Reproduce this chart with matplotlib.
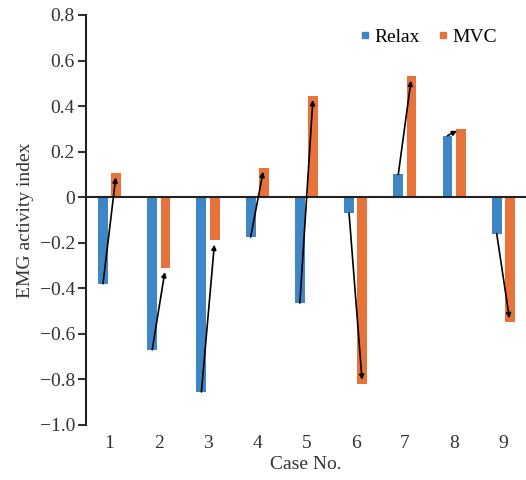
import matplotlib
matplotlib.use("Agg")
import matplotlib.pyplot as plt
from matplotlib.lines import Line2D

# data
cases = [1, 2, 3, 4, 5, 6, 7, 8, 9]
relax = [-0.38, -0.67, -0.855, -0.175, -0.465, -0.07, 0.10, 0.27, -0.16]
mvc = [0.105, -0.31, -0.19, 0.13, 0.445, -0.82, 0.53, 0.30, -0.55]
yticks = [0.8, 0.6, 0.4, 0.2, 0, -0.2, -0.4, -0.6, -0.8, -1.0]
ytick_labels = ["0.8", "0.6", "0.4", "0.2", "0", "\u22120.2", "\u22120.4",
                "\u22120.6", "\u22120.8", "\u22121.0"]

BLUE = "#3f86c6"
ORANGE = "#e8733a"

plt.rcParams['font.family'] = ['Liberation Serif', 'DejaVu Serif']

fig = plt.figure(figsize=(5.26, 4.8), dpi=100)
ax = fig.add_axes([0.1635, 0.1146, 0.8365, 0.8542])

w = 0.2
off = 0.135
xs_b = [c - off for c in cases]
xs_o = [c + off for c in cases]
ax.bar(xs_b, relax, width=w, color=BLUE, zorder=2)
ax.bar(xs_o, mvc, width=w, color=ORANGE, zorder=2)

# arrows from Relax to MVC
for xb, rb, xo, mo in zip(xs_b, relax, xs_o, mvc):
    ax.annotate("", xy=(xo, mo), xytext=(xb, rb),
                arrowprops=dict(arrowstyle="-|>", color="black", lw=1.2,
                                mutation_scale=7, shrinkA=0, shrinkB=3),
                zorder=4)

ax.axhline(0, color="#222222", lw=1.5, zorder=3)

ax.set_xlim(0.52, 9.46)
ax.set_ylim(-1.0, 0.8)
ax.set_yticks(yticks)
ax.set_yticklabels(ytick_labels)
ax.set_xticks(cases)
ax.set_xticklabels([str(c) for c in cases])

for s in ["top", "right", "bottom"]:
    ax.spines[s].set_visible(False)
ax.spines["left"].set_linewidth(1.5)
ax.spines["left"].set_color("#222222")

ax.tick_params(axis="y", direction="out", length=6, width=1.5,
               labelsize=14, pad=2, colors="#333333")
ax.tick_params(axis="x", length=0, labelsize=14, pad=7, colors="#333333")

ax.set_ylabel("EMG activity index", fontsize=14, color="#333333", labelpad=4)
ax.set_xlabel("Case No.", fontsize=14, color="#333333", labelpad=3)

handles = [Line2D([], [], marker="s", ls="", color=BLUE, markersize=4.5),
           Line2D([], [], marker="s", ls="", color=ORANGE, markersize=4.5)]
ax.legend(handles, ["Relax", "MVC"], loc="upper right", ncol=2, frameon=False,
          fontsize=14, handlelength=0.6, handletextpad=0.2, columnspacing=0.9,
          bbox_to_anchor=(0.975, 1.01))

fig.savefig("out.png", dpi=100)
